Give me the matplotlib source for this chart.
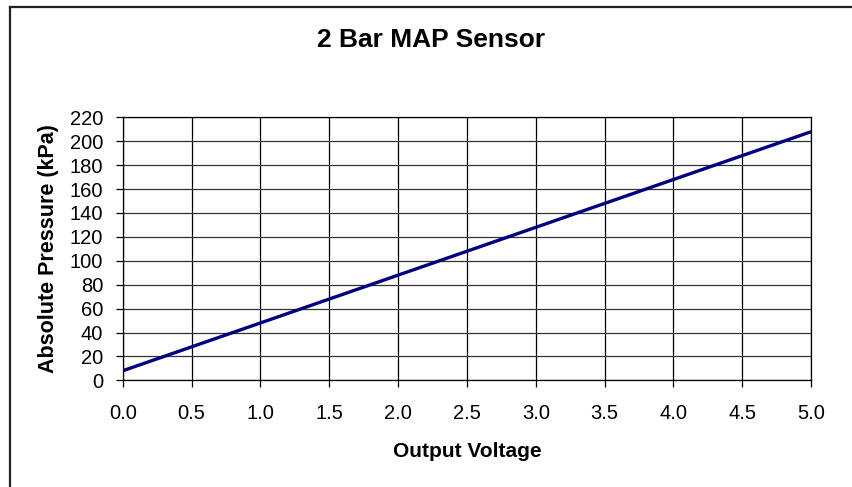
import matplotlib.pyplot as plt
from matplotlib.lines import Line2D

# sensor transfer curve
voltage = [0.0, 0.5, 1.0, 1.5, 2.0, 2.5, 3.0, 3.5, 4.0, 4.5, 5.0]
pressure = [8, 28, 48, 68, 88, 108, 128, 148, 168, 188, 208]

x_ticks = [0.0, 0.5, 1.0, 1.5, 2.0, 2.5, 3.0, 3.5, 4.0, 4.5, 5.0]
y_ticks = list(range(0, 221, 20))

plt.rcParams['font.family'] = ['Liberation Sans', 'DejaVu Sans']

fig = plt.figure(figsize=(8.52, 4.87), dpi=100)
ax = fig.add_axes([0.144, 0.219, 0.808, 0.540])

ax.plot(voltage, pressure, color='#000080', linewidth=2.4, solid_capstyle='butt')

ax.set_xlim(0, 5)
ax.set_ylim(0, 220)
ax.set_xticks(x_ticks)
ax.set_xticklabels([f'{v:.1f}' for v in x_ticks])
ax.set_yticks(y_ticks)

# excel style grid
ax.grid(True, axis='x', color='black', linewidth=0.9)
ax.grid(True, axis='y', color='#333333', linewidth=0.9)
ax.set_axisbelow(True)
for s in ax.spines.values():
    s.set_color('black')
    s.set_linewidth(0.9)

ax.tick_params(axis='both', direction='out', length=5, width=0.9, labelsize=14.5, colors='black')
ax.tick_params(axis='x', pad=12)
ax.tick_params(axis='y', pad=9)

ax.set_xlabel('Output Voltage', fontsize=15, fontweight='bold', labelpad=14)
ax.set_ylabel('Absolute Pressure (kPa)', fontsize=15.5, fontweight='bold', labelpad=8)
fig.text(0.506, 0.917, '2 Bar MAP Sensor', fontsize=19, fontweight='bold', ha='center', va='center')

# chart border (cut off at right and bottom)
fig.add_artist(Line2D([9.5 / 852, 9.5 / 852], [0, 1 - 7 / 487], transform=fig.transFigure, color='#222222', linewidth=1.6))
fig.add_artist(Line2D([9.5 / 852, 1], [1 - 7 / 487, 1 - 7 / 487], transform=fig.transFigure, color='#222222', linewidth=1.6))

fig.savefig('out.png', dpi=100)
